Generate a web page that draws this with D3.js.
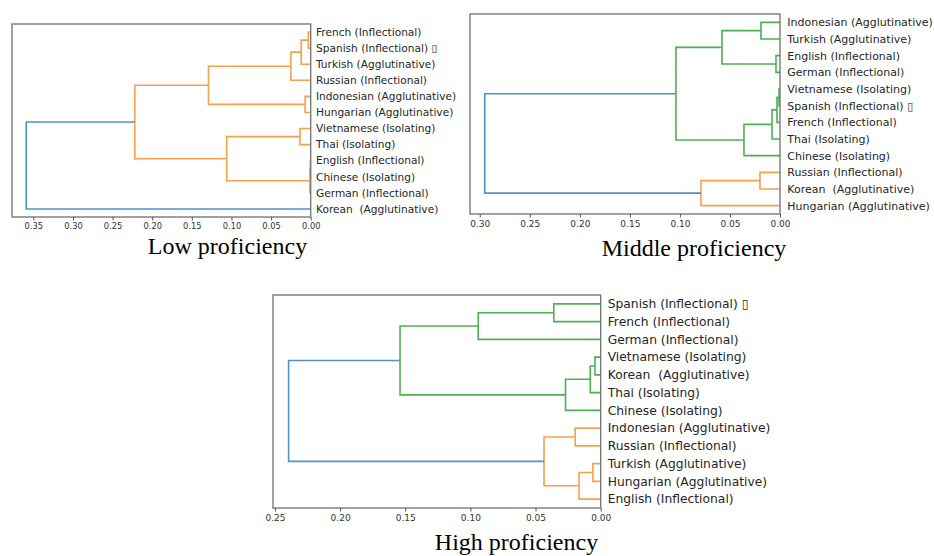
<!doctype html>
<html>

<head>
  <meta charset="utf-8">
  <title>dendrograms</title>
  <style>
    body { margin: 0; background: #fff; }
    .leaf { white-space: pre; }
  </style>
</head>

<body>
  <svg width="934" height="556"></svg>

  <script src="https://d3js.org/d3.v7.min.js"></script>
  <script>
    // leaf labels, top to bottom
    const lowLabels = ['French (Inflectional)', 'Spanish (Inflectional) \u25AF', 'Turkish (Agglutinative)',
      'Russian (Inflectional)', 'Indonesian (Agglutinative)', 'Hungarian (Agglutinative)',
      'Vietnamese (Isolating)', 'Thai (Isolating)', 'English (Inflectional)', 'Chinese (Isolating)',
      'German (Inflectional)', 'Korean  (Agglutinative)'];
    const middleLabels = ['Indonesian (Agglutinative)', 'Turkish (Agglutinative)', 'English (Inflectional)',
      'German (Inflectional)', 'Vietnamese (Isolating)', 'Spanish (Inflectional) \u25AF',
      'French (Inflectional)', 'Thai (Isolating)', 'Chinese (Isolating)', 'Russian (Inflectional)',
      'Korean  (Agglutinative)', 'Hungarian (Agglutinative)'];
    const highLabels = ['Spanish (Inflectional) \u25AF', 'French (Inflectional)', 'German (Inflectional)',
      'Vietnamese (Isolating)', 'Korean  (Agglutinative)', 'Thai (Isolating)', 'Chinese (Isolating)',
      'Indonesian (Agglutinative)', 'Russian (Inflectional)', 'Turkish (Agglutinative)',
      'Hungarian (Agglutinative)', 'English (Inflectional)'];

    // merges: [child a, child b, distance]; leaves are 0..11, merge k is 12 + k
    const lowMerges = [
      [0, 1, 0.003], [12, 2, 0.012], [13, 3, 0.025], [4, 5, 0.007], [14, 15, 0.129],
      [6, 7, 0.0135], [8, 9, 0.0005], [18, 10, 0.001], [17, 19, 0.106], [16, 20, 0.222],
      [21, 11, 0.359]
    ];
    const middleMerges = [
      [0, 1, 0.019], [2, 3, 0.004], [12, 13, 0.058], [4, 5, 0.001], [15, 6, 0.003],
      [16, 7, 0.008], [17, 8, 0.036], [14, 18, 0.104], [9, 10, 0.02], [20, 11, 0.079],
      [19, 21, 0.295]
    ];
    const highMerges = [
      [0, 1, 0.036], [12, 2, 0.094], [3, 4, 0.0044], [14, 5, 0.008], [15, 6, 0.027],
      [13, 16, 0.154], [7, 8, 0.0196], [9, 10, 0.006], [19, 11, 0.0166], [18, 20, 0.0435],
      [17, 21, 0.2395]
    ];

    const lowTicks = [0.35, 0.30, 0.25, 0.20, 0.15, 0.10, 0.05, 0.00];
    const middleTicks = [0.30, 0.25, 0.20, 0.15, 0.10, 0.05, 0.00];
    const highTicks = [0.25, 0.20, 0.15, 0.10, 0.05, 0.00];

    const titles = ['Low proficiency', 'Middle proficiency', 'High proficiency'];

    const aboveColor = '#4f93c9';
    const palette = ['#f7a04c', '#4fb052'];

    const panels = [
      { labels: lowLabels, merges: lowMerges, ticks: lowTicks, title: titles[0],
        x0: 12, x1: 310.7, y0: 24, y1: 217, leafFont: 10.6, tickFont: 8.3, labelGap: 5.3, tickPad: 3,
        titleX: 227.5, titleY: 254 },
      { labels: middleLabels, merges: middleMerges, ticks: middleTicks, title: titles[1],
        x0: 470, x1: 780, y0: 14, y1: 214, leafFont: 11, tickFont: 9, labelGap: 7.3, tickPad: 3,
        titleX: 694, titleY: 256 },
      { labels: highLabels, merges: highMerges, ticks: highTicks, title: titles[2],
        x0: 273, x1: 600.7, y0: 295, y1: 508, leafFont: 12.3, tickFont: 9, labelGap: 7, tickPad: 3.5,
        titleX: 516.5, titleY: 550 }
    ];

    const svg = d3.select('svg');

    panels.forEach(p => {
      const n = p.labels.length;
      const maxH = d3.max(p.merges, m => m[2]);
      const threshold = 0.7 * maxH;

      const x = d3.scaleLinear().domain([maxH * 1.05, 0]).range([p.x0, p.x1]);
      const y = d3.scaleLinear().domain([0, n * 10]).range([p.y0, p.y1]);

      // node positions (scipy style: leaves at 5, 15, ...; parent at mean of children)
      const nodes = p.labels.map((l, i) => ({ pos: 5 + 10 * i, h: 0, leaf: true }));
      p.merges.forEach(m => {
        nodes.push({ pos: (nodes[m[0]].pos + nodes[m[1]].pos) / 2, h: m[2], a: m[0], b: m[1], leaf: false });
      });

      // colour clusters below threshold, assigned from the bottom up
      const roots = [];
      nodes.forEach((nd, i) => {
        if (nd.leaf || nd.h > threshold) return;
        const parent = nodes.findIndex(o => !o.leaf && (o.a === i || o.b === i));
        if (parent < 0 || nodes[parent].h > threshold) roots.push(i);
      });
      const bottom = i => nodes[i].leaf ? nodes[i].pos : Math.max(bottom(nodes[i].a), bottom(nodes[i].b));
      roots.sort((a, b) => bottom(b) - bottom(a));
      const colorOf = {};
      const paint = (i, c) => {
        if (nodes[i].leaf) return;
        colorOf[i] = c;
        paint(nodes[i].a, c);
        paint(nodes[i].b, c);
      };
      roots.forEach((r, k) => paint(r, palette[k % palette.length]));

      const g = svg.append('g');

      // links
      const line = d3.line().x(d => x(d[0])).y(d => y(d[1]));
      nodes.forEach((nd, i) => {
        if (nd.leaf) return;
        const A = nodes[nd.a], B = nodes[nd.b];
        g.append('path')
          .attr('d', line([[A.h, A.pos], [nd.h, A.pos], [nd.h, B.pos], [B.h, B.pos]]))
          .attr('fill', 'none')
          .attr('stroke', colorOf[i] || aboveColor)
          .attr('stroke-width', 1.6);
      });

      // frame
      g.append('rect')
        .attr('x', p.x0).attr('y', p.y0)
        .attr('width', p.x1 - p.x0).attr('height', p.y1 - p.y0)
        .attr('fill', 'none')
        .attr('stroke', '#7a7a7a')
        .attr('stroke-width', 1.4);

      // x axis
      const ax = g.append('g')
        .attr('transform', `translate(0, ${p.y1})`)
        .call(d3.axisBottom(x).tickValues(p.ticks).tickFormat(d3.format('.2f'))
          .tickSize(3.5).tickSizeOuter(0).tickPadding(p.tickPad));
      ax.select('.domain').remove();
      ax.selectAll('line').attr('stroke', '#555');
      ax.selectAll('text')
        .attr('fill', '#333')
        .style('font-family', 'DejaVu Sans')
        .style('font-size', p.tickFont + 'px');

      // leaf labels
      g.selectAll('.leaf')
        .data(p.labels)
        .join('text')
        .attr('class', 'leaf')
        .attr('x', p.x1 + p.labelGap)
        .attr('y', (d, i) => y(5 + 10 * i))
        .attr('dy', '0.35em')
        .attr('fill', '#262626')
        .style('font-family', 'DejaVu Sans')
        .style('font-size', p.leafFont + 'px')
        .text(d => d);

      // caption
      svg.append('text')
        .attr('x', p.titleX)
        .attr('y', p.titleY)
        .attr('text-anchor', 'middle')
        .style('font-family', 'Liberation Serif')
        .style('font-size', '24px')
        .attr('fill', '#000')
        .text(p.title);
    });
  </script>
</body>

</html>
